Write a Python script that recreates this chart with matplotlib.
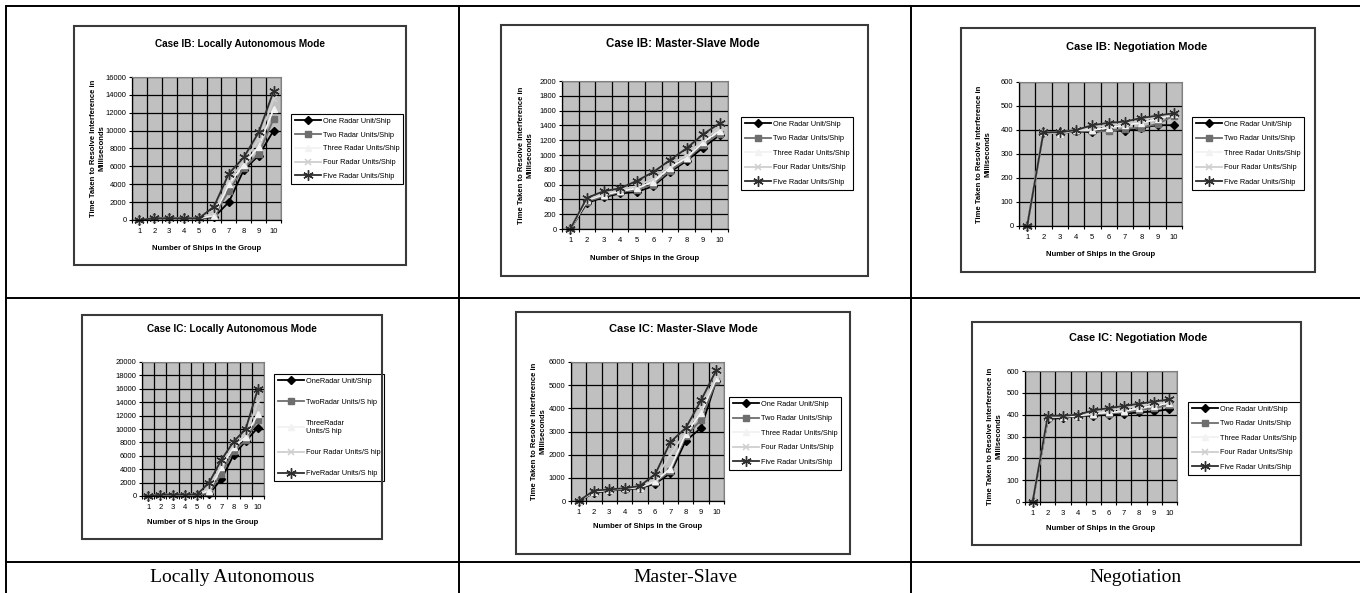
import numpy as np
import matplotlib
matplotlib.use("Agg")
import matplotlib.pyplot as plt
from matplotlib.lines import Line2D
from matplotlib.patches import Rectangle

# ── data ─────────────────────────────────────────────────────────────────────
ships = [1, 2, 3, 4, 5, 6, 7, 8, 9, 10]

series_names = ["One Radar Unit/Ship", "Two Radar Units/Ship", "Three Radar Units/Ship",
                "Four Radar Units/Ship", "Five Radar Units/Ship"]
series_names_ic_la = ["OneRadar Unit/Ship", "TwoRadar Units/S hip", "ThreeRadar\nUnits/S hip",
                      "Four Radar Units/S hip", "FiveRadar Units/S hip"]

ib_la_one   = [0, 200, 200, 200, 200, 300, 2000, 5600, 7200, 10000]
ib_la_two   = [0, 200, 200, 200, 200, 400, 3300, 5800, 7400, 11300]
ib_la_three = [0, 200, 200, 200, 200, 500, 4000, 6200, 8200, 12400]
ib_la_four  = [0, 200, 200, 200, 200, 800, 4500, 6500, 9000, 13500]
ib_la_five  = [0, 200, 200, 200, 200, 1500, 5200, 7000, 9800, 14400]

ib_ms_one   = [0, 350, 430, 480, 500, 580, 770, 920, 1100, 1270]
ib_ms_two   = [0, 370, 440, 500, 530, 600, 790, 940, 1140, 1290]
ib_ms_three = [0, 390, 460, 510, 550, 640, 830, 960, 1170, 1330]
ib_ms_four  = [0, 400, 480, 530, 580, 680, 860, 1000, 1200, 1370]
ib_ms_five  = [0, 420, 510, 550, 650, 770, 930, 1090, 1280, 1430]

ib_neg_one   = [0, 390, 390, 395, 390, 400, 395, 410, 420, 420]
ib_neg_two   = [0, 390, 385, 395, 395, 395, 405, 410, 425, 460]
ib_neg_three = [0, 390, 385, 400, 400, 410, 420, 430, 445, 465]
ib_neg_four  = [0, 390, 390, 400, 410, 420, 425, 440, 455, 465]
ib_neg_five  = [0, 390, 390, 400, 420, 430, 435, 450, 460, 470]

ic_la_one   = [0, 200, 200, 200, 200, 300, 2500, 6100, 8200, 10200]
ic_la_two   = [0, 200, 200, 200, 200, 400, 3300, 6700, 8300, 11400]
ic_la_three = [0, 200, 200, 200, 200, 800, 4300, 7300, 8800, 12300]
ic_la_four  = [0, 200, 200, 200, 200, 1200, 4800, 7600, 9200, 14000]
ic_la_five  = [0, 200, 200, 200, 200, 2000, 5400, 8100, 10000, 16000]

ic_ms_one   = [0, 350, 450, 500, 550, 750, 1200, 2600, 3150, 5200]
ic_ms_two   = [0, 380, 470, 520, 570, 800, 1300, 2800, 3500, 5200]
ic_ms_three = [0, 400, 480, 540, 580, 850, 1400, 2900, 3800, 5300]
ic_ms_four  = [0, 420, 490, 550, 600, 950, 2000, 3000, 4000, 5400]
ic_ms_five  = [0, 450, 500, 550, 650, 1150, 2550, 3150, 4350, 5650]

ic_neg_one   = [0, 380, 385, 395, 395, 400, 405, 410, 415, 425]
ic_neg_two   = [0, 385, 390, 395, 400, 405, 410, 420, 430, 445]
ic_neg_three = [0, 390, 390, 395, 405, 410, 415, 430, 440, 455]
ic_neg_four  = [0, 390, 395, 400, 410, 420, 430, 440, 450, 460]
ic_neg_five  = [0, 395, 395, 400, 420, 430, 440, 450, 460, 470]

captions = ["Locally Autonomous", "Master-Slave", "Negotiation"]

# ── page geometry (pixels) ───────────────────────────────────────────────────
W, H = 1360, 593
fig = plt.figure(figsize=(W / 100, H / 100), dpi=100)
plt.rcParams["font.family"] = ["Liberation Sans", "DejaVu Sans"]

def fx(x): return x / W
def fy(y): return 1 - y / H

def hline(x0, x1, y):
    fig.add_artist(Line2D([fx(x0), fx(x1)], [fy(y), fy(y)], transform=fig.transFigure,
                          color="black", lw=1.4))

def vline(x, y0, y1):
    fig.add_artist(Line2D([fx(x), fx(x)], [fy(y0), fy(y1)], transform=fig.transFigure,
                          color="black", lw=1.4))

# table grid
hline(6, W, 6)
hline(6, W, 298)
hline(6, W, 562)
vline(6, 6, H)
vline(459, 6, H)
vline(911, 6, H)

# marker / line styles per series (One .. Five)
styles = [
    dict(color="black",   marker="D",       ms=4.0, mfc="black",   mec="black"),
    dict(color="#6e6e6e", marker="s",       ms=4.6, mfc="#6e6e6e", mec="#6e6e6e"),
    dict(color="#f2f2f2", marker="^",       ms=5.0, mfc="#f2f2f2", mec="#f2f2f2"),
    dict(color="#cfcfcf", marker="x",       ms=4.6, mfc="#cfcfcf", mec="#cfcfcf", mew=1.1),
    dict(color="#2e2e2e", marker=(6, 2, 0), ms=7.5, mfc="#2e2e2e", mec="#2e2e2e", mew=1.0),
]

def chart(box, plot, leg, title, title_xy, data, ymax, ystep, names,
          xlabel_y, ylabel_x=None, leg_spacing=1.0, title_size=7.5,
          xlabel="Number of Ships in the Group"):
    bx0, by0, bx1, by1 = box
    fig.add_artist(Rectangle((fx(bx0), fy(by1)), (bx1 - bx0) / W, (by1 - by0) / H,
                             transform=fig.transFigure, fill=False, ec="#3a3a3a", lw=1.5))
    px0, py0, px1, py1 = plot
    ax = fig.add_axes([fx(px0), fy(py1), (px1 - px0) / W, (py1 - py0) / H])
    ax.set_facecolor("#c0c0c0")

    x = np.arange(len(ships)) + 0.5
    handles = []
    for vals, st in zip(data, styles):
        h, = ax.plot(x, vals, lw=1.3, clip_on=False, **st)
        handles.append(h)

    ax.set_xlim(0, len(ships))
    ax.set_ylim(0, ymax)
    ax.set_xticks(np.arange(0, len(ships) + 1))
    ax.set_xticklabels([])
    ax.set_xticks(x, minor=True)
    ax.set_xticklabels([str(s) for s in ships], minor=True)
    ax.set_yticks(np.arange(0, ymax + ystep / 2, ystep))
    ax.grid(True, which="major", color="black", lw=0.9)
    ax.set_axisbelow(True)
    ax.tick_params(which="major", labelsize=5.5, length=2.5, width=0.8, pad=1.5, direction="out")
    ax.tick_params(which="minor", labelsize=5.5, length=0, pad=6)
    for s in ("top", "right"):
        ax.spines[s].set_color("#808080")
        ax.spines[s].set_linewidth(0.8)
    for s in ("left", "bottom"):
        ax.spines[s].set_color("black")
        ax.spines[s].set_linewidth(0.9)

    lx0, ly0 = leg
    lg = ax.legend(handles, names, loc="upper left", bbox_to_anchor=(fx(lx0), fy(ly0)),
                   bbox_transform=fig.transFigure, fontsize=5.3, frameon=True, fancybox=False,
                   edgecolor="black", framealpha=1, handlelength=3.6, handletextpad=0.2,
                   labelspacing=leg_spacing, borderpad=0.5, borderaxespad=0)
    lg.get_frame().set_linewidth(0.8)

    fig.text(fx(title_xy[0]), fy(title_xy[1]), title, ha="center", va="center",
             fontsize=title_size, fontweight="bold")
    fig.text(fx((px0 + px1) / 2), fy(xlabel_y), xlabel,
             ha="center", va="center", fontsize=5.5, fontweight="bold")
    if ylabel_x is not None:
        fig.text(fx(ylabel_x), fy((py0 + py1) / 2),
                 "Time Taken to Resolve Interference in\nMilliseconds",
                 ha="center", va="center", rotation=90, fontsize=5.5, fontweight="bold",
                 linespacing=1.25)
    return ax

chart((74, 26, 406, 265), (132, 77, 281, 220), (291, 114),
      "Case IB: Locally Autonomous Mode", (240, 44),
      [ib_la_one, ib_la_two, ib_la_three, ib_la_four, ib_la_five], 16000, 2000,
      series_names, 249, ylabel_x=98, title_size=7.2, leg_spacing=0.9)

chart((501, 25, 868, 276), (562, 81, 728, 229), (741, 117),
      "Case IB: Master-Slave Mode", (683, 44),
      [ib_ms_one, ib_ms_two, ib_ms_three, ib_ms_four, ib_ms_five], 2000, 200,
      series_names, 259, ylabel_x=526, title_size=8.3)

chart((961, 28, 1315, 272), (1019, 82, 1182, 226), (1192, 117),
      "Case IB: Negotiation Mode", (1137, 47),
      [ib_neg_one, ib_neg_two, ib_neg_three, ib_neg_four, ib_neg_five], 600, 100,
      series_names, 254, ylabel_x=984, title_size=8.0)

chart((82, 315, 382, 539), (142, 362, 264, 496), (274, 374),
      "Case IC: Locally Autonomous Mode", (232, 329),
      [ic_la_one, ic_la_two, ic_la_three, ic_la_four, ic_la_five], 20000, 2000,
      series_names_ic_la, 522, ylabel_x=None, leg_spacing=1.9, title_size=7.2,
      xlabel="Number of S hips in the Group")

chart((516, 312, 850, 554), (571, 362, 724, 501), (729, 397),
      "Case IC: Master-Slave Mode", (683, 329),
      [ic_ms_one, ic_ms_two, ic_ms_three, ic_ms_four, ic_ms_five], 6000, 1000,
      series_names, 527, ylabel_x=539, title_size=8.0)

chart((972, 322, 1301, 545), (1025, 371, 1177, 502), (1188, 402),
      "Case IC: Negotiation Mode", (1138, 338),
      [ic_neg_one, ic_neg_two, ic_neg_three, ic_neg_four, ic_neg_five], 600, 100,
      series_names, 529, ylabel_x=995, title_size=7.8)

# column captions
for cx, cap in zip([232, 685, 1135], captions):
    fig.text(fx(cx), fy(578), cap, ha="center", va="center", fontsize=14,
             family=["Liberation Serif", "DejaVu Serif"])

fig.savefig("out.png", dpi=100)
